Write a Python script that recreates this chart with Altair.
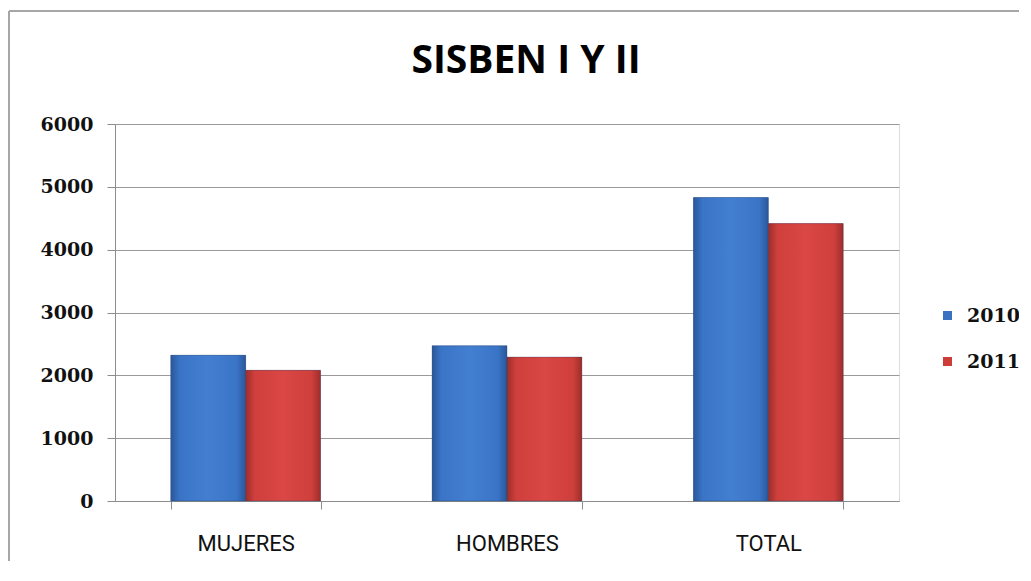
import altair as alt
import pandas as pd

categories = ["MUJERES", "HOMBRES", "TOTAL"]
years = ["2010", "2011"]
values_2010 = [2320, 2470, 4830]
values_2011 = [2080, 2290, 4415]
y_ticks = [0, 1000, 2000, 3000, 4000, 5000, 6000]
solid_colors = ["#3a72c2", "#cc3d3a"]

rows = []
for c, a, b in zip(categories, values_2010, values_2011):
    rows.append({"categoria": c, "anio": years[0], "valor": a})
    rows.append({"categoria": c, "anio": years[1], "valor": b})
df = pd.DataFrame(rows)


def grad(edge, mid, light):
    return alt.LinearGradient(
        gradient="linear", x1=0, x2=1, y1=0, y2=0,
        stops=[
            alt.GradientStop(color=edge, offset=0),
            alt.GradientStop(color=mid, offset=0.12),
            alt.GradientStop(color=light, offset=0.5),
            alt.GradientStop(color=mid, offset=0.88),
            alt.GradientStop(color=edge, offset=1),
        ],
    )


blue_grad = grad("#2a5799", "#3a74c6", "#437fd1")
red_grad = grad("#9c2e2b", "#cf3f3c", "#da4744")

x_enc = alt.X(
    "categoria:N",
    sort=categories,
    scale=alt.Scale(domain=categories, paddingInner=0.427, paddingOuter=0.2135),
    axis=alt.Axis(
        title=None, labelAngle=0, tickBand="extent", labelFont="Roboto",
        labelFontSize=22, labelColor="#111111", labelPadding=24, tickSize=8,
        domainColor="#8c8c8c", tickColor="#8c8c8c", grid=False,
    ),
)
y_enc = alt.Y(
    "valor:Q",
    scale=alt.Scale(domain=[0, 6000]),
    axis=alt.Axis(
        values=y_ticks, format="d", title=None, labelFont="DejaVu Serif",
        labelFontWeight="bold", labelFontSize=19, labelColor="#111111",
        labelPadding=14, tickSize=8, domainColor="#8c8c8c", tickColor="#8c8c8c",
        gridColor="#9a9a9a", gridWidth=1, grid=True,
    ),
)
xoff = alt.XOffset("anio:N", scale=alt.Scale(domain=years, paddingInner=0, paddingOuter=0))

bars_solid = alt.Chart(df).mark_bar().encode(
    x=x_enc, y=y_enc, xOffset=xoff,
    color=alt.Color(
        "anio:N",
        scale=alt.Scale(domain=years, range=solid_colors),
        legend=alt.Legend(
            title=None, orient="none", legendX=823, legendY=182, symbolType="square",
            symbolSize=81, symbolStrokeWidth=0, labelFont="DejaVu Serif",
            labelFontWeight="bold", labelFontSize=19, labelColor="#111111",
            rowPadding=26, labelOffset=10, padding=0,
        ),
    ),
)

bars_grad = alt.Chart(df).mark_bar(stroke="#2b3f66", strokeOpacity=0.35, strokeWidth=1).encode(
    x=x_enc, y=y_enc, xOffset=xoff,
    fill=alt.condition(
        "datum.anio == '2010'", alt.value(blue_grad), alt.value(red_grad)
    ),
)

frame_df = pd.DataFrame({"k": [0]})
frame_left = alt.Chart(frame_df).mark_rule(color="#a6a6a6", strokeWidth=2).encode(
    x=alt.value(-106), y=alt.value(-113), y2=alt.value(600)
)
frame_top = alt.Chart(frame_df).mark_rule(color="#a6a6a6", strokeWidth=2).encode(
    x=alt.value(-106), x2=alt.value(1000), y=alt.value(-113)
)

chart = alt.layer(frame_left, frame_top, bars_solid, bars_grad).properties(
    width=784,
    height=377,
    autosize=alt.AutoSizeParams(type="none"),
    padding={"left": 107, "top": 116, "right": 120, "bottom": 60},
    title=alt.Title(
        "SISBEN I Y II", font="Open Sans", fontSize=39, fontWeight="bold",
        anchor="middle", dx=19, offset=-102, baseline="alphabetic", color="#000000",
    ),
).configure_view(stroke=None).configure(background="white")

chart.save("out.html", embed_options={"renderer": "svg", "actions": False})
